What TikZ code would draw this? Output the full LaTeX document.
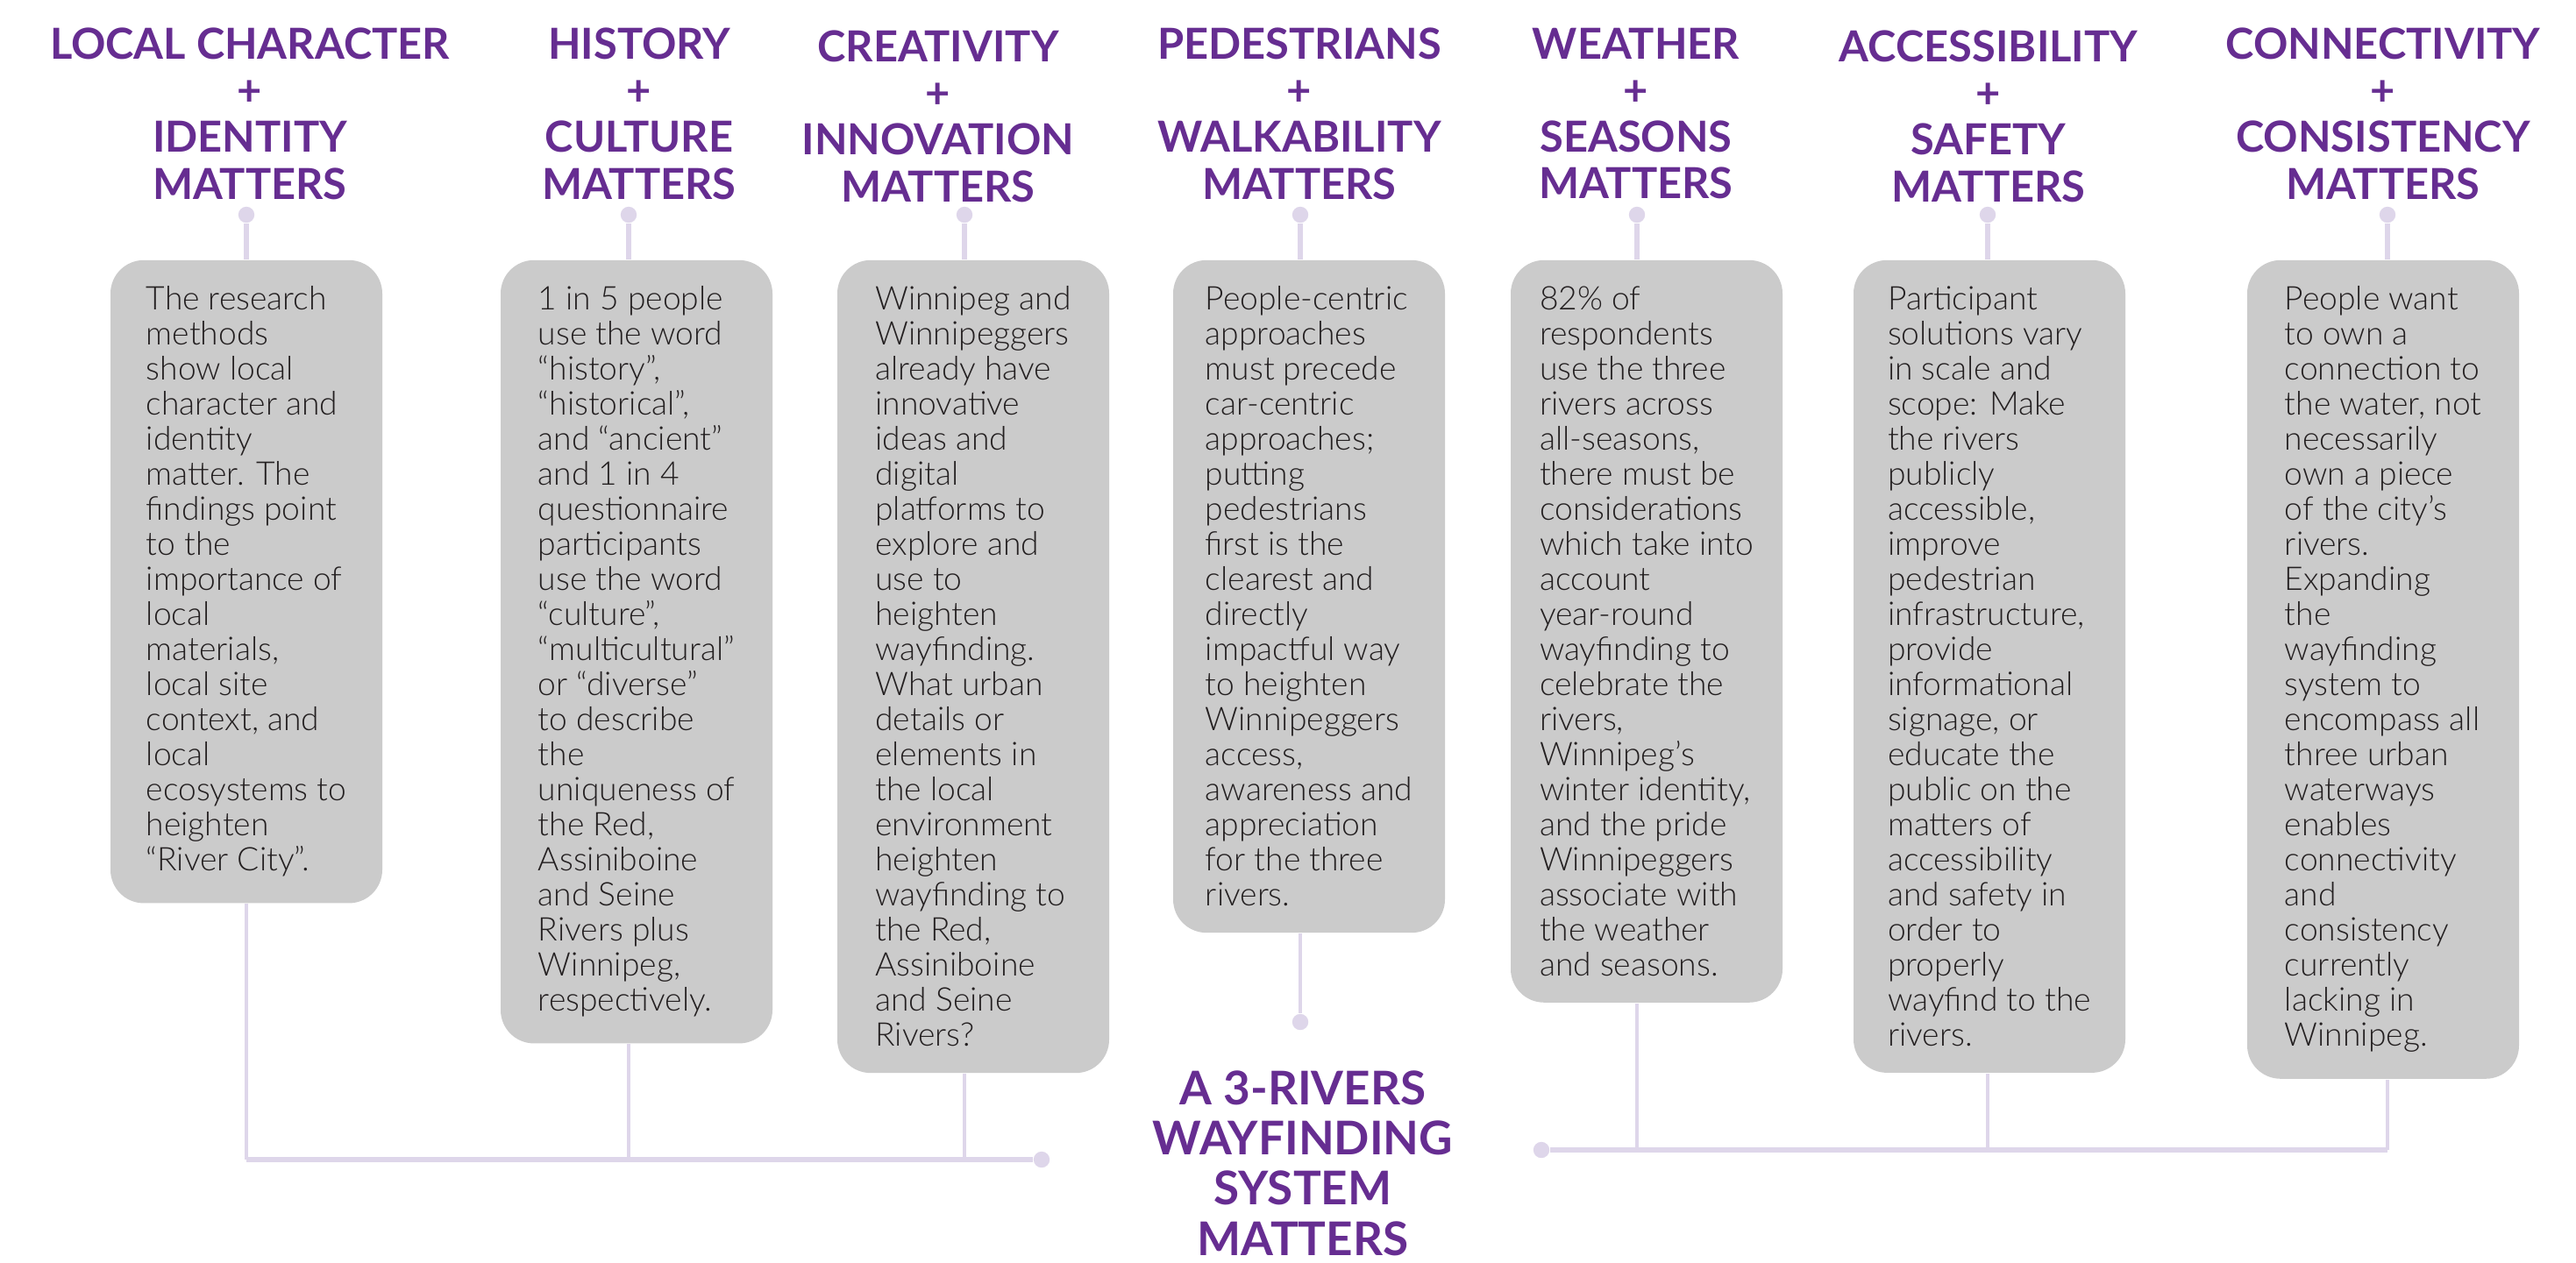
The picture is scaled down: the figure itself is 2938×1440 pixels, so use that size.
\documentclass[tikz,border=0pt]{standalone}
\usepackage{fontspec}
\setmainfont{Lato}
\newfontfamily\bodyfont{Lato Light}
\definecolor{rivpurple}{HTML}{662D91}
\definecolor{boxgray}{HTML}{CBCBCB}
\definecolor{inkgray}{HTML}{231F20}
\definecolor{linklav}{HTML}{DED6EA}
\tikzset{
  heading/.style={anchor=north, inner sep=0pt, align=center, text=rivpurple,
    font=\fontsize{12.2}{13.3}\selectfont\bfseries},
  title/.style={heading, font=\fontsize{13.25}{14.3}\selectfont\bfseries},
  infobox/.style={anchor=north, fill=boxgray, rounded corners=9.5pt,
    minimum width=77.5pt, inner xsep=4pt, inner ysep=7.5pt, align=left,
    text=inkgray, font=\bodyfont\fontsize{9.3}{10}\selectfont},
  pin/.style={circle, fill=linklav, inner sep=0pt, minimum size=4.6pt},
  stem/.style={draw=linklav, line width=1.4pt},
  drop/.style={draw=linklav, line width=0.8pt},
  rail/.style={draw=linklav, line width=1.3pt}
}
\begin{document}
\begin{tikzpicture}[x=0.25pt, y=-0.25pt]
\useasboundingbox (0,0) rectangle (2938,1440);

% headings
\node[heading] (h1) at (285,31) {LOCAL CHARACTER\\+\\IDENTITY\\MATTERS};
\node[heading] (h2) at (729,31) {HISTORY\\+\\CULTURE\\MATTERS};
\node[heading] (h3) at (1070,34) {CREATIVITY\\+\\INNOVATION\\MATTERS};
\node[heading] (h4) at (1482,31) {PEDESTRIANS\\+\\WALKABILITY\\MATTERS};
\node[heading] (h5) at (1866,31) {WEATHER\\+\\SEASONS\\MATTERS};
\node[heading] (h6) at (2268,34) {ACCESSIBILITY\\+\\SAFETY\\MATTERS};
\node[heading] (h7) at (2718,31) {CONNECTIVITY\\+\\CONSISTENCY\\MATTERS};

% pins under the headings
\foreach \i/\cx in {1/281,2/717,3/1100,4/1483,5/1867,6/2267,7/2723}
  \node[pin] (p\i) at (\cx,245) {};

% text boxes
\node[infobox] (b1) at (281,296) {The research\\methods\\show local\\character and\\identity\\matter. The\\findings point\\to the\\importance of\\local\\materials,\\local site\\context, and\\local\\ecosystems to\\heighten\\“River City”.};
\node[infobox] (b2) at (726,296) {1 in 5 people\\use the word\\“history”,\\“historical”,\\and “ancient”\\and 1 in 4\\questionnaire\\participants\\use the word\\“culture”,\\“multicultural”\\or “diverse”\\to describe\\the\\uniqueness of\\the Red,\\Assiniboine\\and Seine\\Rivers plus\\Winnipeg,\\respectively.};
\node[infobox] (b3) at (1110,296) {Winnipeg and\\Winnipeggers\\already have\\innovative\\ideas and\\digital\\platforms to\\explore and\\use to\\heighten\\wayfinding.\\What urban\\details or\\elements in\\the local\\environment\\heighten\\wayfinding to\\the Red,\\Assiniboine\\and Seine\\Rivers?};
\node[infobox] (b4) at (1493,296) {People-centric\\approaches\\must precede\\car-centric\\approaches;\\putting\\pedestrians\\first is the\\clearest and\\directly\\impactful way\\to heighten\\Winnipeggers\\access,\\awareness and\\appreciation\\for the three\\rivers.};
\node[infobox] (b5) at (1878,296) {82\% of\\respondents\\use the three\\rivers across\\all-seasons,\\there must be\\considerations\\which take into\\account\\year-round\\wayfinding to\\celebrate the\\rivers,\\Winnipeg’s\\winter identity,\\and the pride\\Winnipeggers\\associate with\\the weather\\and seasons.};
\node[infobox] (b6) at (2269,296) {Participant\\solutions vary\\in scale and\\scope: Make\\the rivers\\publicly\\accessible,\\improve\\pedestrian\\infrastructure,\\provide\\informational\\signage, or\\educate the\\public on the\\matters of\\accessibility\\and safety in\\order to\\properly\\wayfind to the\\rivers.};
\node[infobox] (b7) at (2718,296) {People want\\to own a\\connection to\\the water, not\\necessarily\\own a piece\\of the city’s\\rivers.\\Expanding\\the\\wayfinding\\system to\\encompass all\\three urban\\waterways\\enables\\connectivity\\and\\consistency\\currently\\lacking in\\Winnipeg.};

% centre title and joining pins
\node[title] (sys) at (1486,1221) {A 3-RIVERS\\WAYFINDING\\SYSTEM\\MATTERS};
\node[pin] (jl) at (1188,1323) {};
\node[pin] (jr) at (1758,1312) {};
\node[pin] (jc) at (1483,1166) {};

% connectors
\foreach \i in {1,...,7}
  \draw[stem] (p\i) -- (p\i |- b\i.north);
\draw[rail] (p1 |- jl) -- (jl);
\foreach \i in {1,2,3}
  \draw[drop] (p\i |- b\i.south) -- (p\i |- jl);
\draw[rail] (jr) -- (p7 |- jr);
\foreach \i in {5,6,7}
  \draw[drop] (p\i |- b\i.south) -- (p\i |- jr);
\draw[drop] (p4 |- b4.south) -- (jc);
\end{tikzpicture}
\end{document}
